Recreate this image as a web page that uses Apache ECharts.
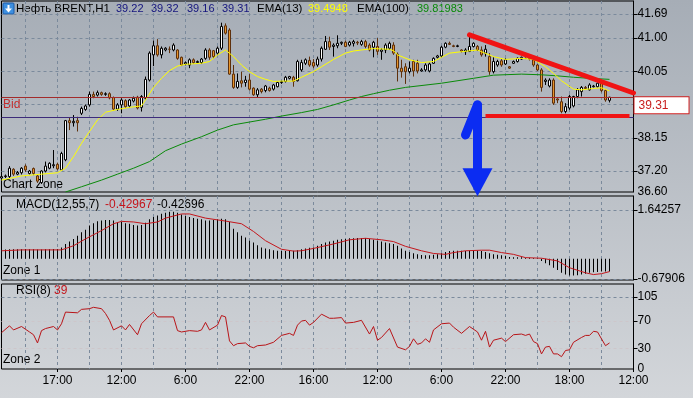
<!DOCTYPE html>
<html>
<head>
<meta charset="utf-8">
<title>Нефть BRENT,H1</title>
<script src="https://cdn.jsdelivr.net/npm/echarts@6/dist/echarts.min.js"></script>
<style>
  html, body { margin: 0; padding: 0; }
  #chart { width: 693px; height: 398px; }
</style>
</head>
<body>
<div id="chart"></div>
<script>
// one slot per H1 bar (4 px each), time label every 16 bars, grid line every 8
const timeLabels = ['17:00', '12:00', '6:00', '22:00', '16:00', '12:00', '6:00', '22:00', '18:00', '12:00']
const firstLabelBar = 14
const labelEvery = 16
const gridEvery = 8
const barSlots = 159

// candles: [open, close, low, high]
const candles = [
  [37.00, 37.04, 36.95, 37.08], [37.04, 37.06, 37.00, 37.10], [37.04, 37.28, 37.00, 37.34], [37.25, 37.11, 37.06, 37.28],
  [37.11, 37.16, 37.08, 37.20], [37.15, 37.28, 37.10, 37.31], [37.34, 37.23, 37.18, 37.39], [37.13, 37.20, 37.10, 37.23],
  [37.27, 37.13, 37.08, 37.30], [37.06, 36.91, 36.86, 37.10], [36.87, 37.20, 36.83, 37.22], [37.20, 37.34, 37.16, 37.47],
  [37.28, 37.42, 37.25, 37.45], [37.35, 37.38, 37.28, 37.80], [37.39, 37.26, 37.22, 37.44], [37.23, 37.70, 37.20, 37.75],
  [37.52, 38.64, 37.48, 38.66], [38.64, 38.58, 38.37, 38.73], [38.58, 38.62, 38.47, 38.80], [38.64, 38.58, 38.33, 38.75],
  [38.85, 38.99, 38.80, 39.04], [38.96, 39.06, 38.92, 39.10], [39.09, 39.39, 39.04, 39.47], [39.39, 39.33, 39.28, 39.47],
  [39.37, 39.44, 39.33, 39.50], [39.44, 39.39, 39.35, 39.47], [39.39, 39.41, 39.35, 39.45], [39.41, 39.29, 39.25, 39.45],
  [39.30, 38.97, 38.93, 39.33], [38.97, 39.09, 38.92, 39.14], [39.09, 39.23, 38.85, 39.28], [39.21, 39.04, 39.00, 39.25],
  [39.06, 39.23, 39.02, 39.26], [39.20, 39.28, 39.16, 39.33], [39.31, 39.00, 38.96, 39.35], [39.02, 39.33, 38.90, 39.37],
  [39.28, 39.82, 39.24, 39.90], [39.80, 40.57, 39.76, 40.62], [40.52, 40.78, 40.20, 40.93], [40.78, 40.52, 40.47, 40.97],
  [40.52, 40.71, 40.42, 40.76], [40.66, 40.71, 40.62, 40.74], [40.68, 40.68, 40.57, 40.76], [40.66, 40.80, 40.62, 40.85],
  [40.66, 40.42, 40.38, 40.68], [40.45, 40.23, 40.20, 40.47], [40.26, 40.30, 40.22, 40.33], [40.23, 40.38, 40.14, 40.42],
  [40.38, 40.30, 40.26, 40.42], [40.30, 40.33, 40.26, 40.36], [40.30, 40.40, 40.26, 40.43], [40.42, 40.66, 40.38, 40.71],
  [40.66, 40.45, 40.38, 40.71], [40.64, 40.47, 40.42, 40.66], [40.57, 40.71, 40.52, 40.76], [40.71, 41.33, 40.66, 41.44],
  [41.35, 41.14, 41.10, 41.42], [41.23, 39.97, 39.95, 41.28], [39.97, 39.59, 39.55, 40.23], [39.59, 39.76, 39.55, 39.99],
  [39.78, 39.71, 39.59, 40.04], [39.73, 39.80, 39.61, 39.92], [39.80, 39.54, 39.50, 39.97], [39.57, 39.38, 39.35, 39.59],
  [39.38, 39.52, 39.31, 39.57], [39.54, 39.47, 39.42, 39.57], [39.50, 39.63, 39.45, 39.66], [39.57, 39.50, 39.47, 39.61],
  [39.54, 39.66, 39.50, 39.69], [39.61, 39.73, 39.59, 39.76], [39.73, 39.76, 39.69, 39.78], [39.76, 39.88, 39.73, 39.92],
  [39.85, 39.90, 39.82, 39.92], [39.88, 39.76, 39.61, 39.92], [39.78, 40.33, 39.76, 40.38], [40.09, 40.30, 40.04, 40.38],
  [40.28, 40.38, 40.23, 40.42], [40.36, 40.23, 40.18, 40.47], [40.30, 40.20, 40.14, 40.40], [40.23, 40.40, 40.18, 40.47],
  [40.40, 40.71, 40.33, 40.76], [40.68, 40.90, 40.66, 41.06], [40.90, 40.74, 40.66, 41.04], [40.76, 40.80, 40.47, 40.85],
  [40.78, 40.85, 40.71, 41.08], [40.85, 40.88, 40.80, 40.90], [40.88, 40.76, 40.74, 40.93], [40.80, 40.88, 40.76, 40.92],
  [40.85, 40.90, 40.76, 40.95], [40.88, 40.86, 40.80, 40.92], [40.82, 40.90, 40.78, 40.95], [40.90, 40.76, 40.71, 40.95],
  [40.80, 40.66, 40.62, 40.85], [40.74, 40.88, 40.45, 40.92], [40.76, 40.62, 40.52, 41.00], [40.62, 40.66, 40.38, 40.71],
  [40.66, 40.80, 40.57, 40.85], [40.71, 40.85, 40.66, 40.90], [40.80, 40.57, 40.52, 40.88], [40.54, 40.14, 39.76, 40.59],
  [40.14, 40.04, 39.87, 40.38], [40.18, 40.04, 39.69, 40.28], [40.04, 40.14, 39.99, 40.33], [40.33, 40.06, 39.90, 40.38],
  [40.28, 40.06, 39.99, 40.38], [40.06, 40.09, 40.04, 40.14], [40.09, 40.23, 40.04, 40.28], [40.06, 40.26, 40.02, 40.30],
  [40.28, 40.42, 40.26, 40.45], [40.45, 40.49, 40.42, 40.52], [40.49, 40.74, 40.45, 40.78], [40.74, 40.85, 40.71, 40.88],
  [40.85, 40.82, 40.80, 40.90], [40.78, 40.76, 40.74, 40.81], [40.76, 40.78, 40.74, 40.81], [40.66, 40.62, 40.59, 40.68],
  [40.61, 40.66, 40.52, 40.71], [40.62, 40.76, 40.60, 41.04], [40.76, 40.85, 40.73, 40.88], [40.76, 40.66, 40.63, 40.80],
  [40.66, 40.52, 40.47, 40.76], [40.57, 40.68, 40.47, 40.80], [40.47, 40.04, 39.95, 40.57], [40.04, 40.33, 39.99, 40.45],
  [40.23, 40.33, 40.18, 40.38], [40.35, 40.23, 40.18, 40.40], [40.26, 40.38, 40.23, 40.42], [40.18, 40.14, 40.12, 40.20],
  [40.28, 40.33, 40.26, 40.36], [40.33, 40.42, 40.30, 40.45], [40.40, 40.45, 40.38, 40.47], [40.42, 40.42, 40.40, 40.45],
  [40.43, 40.40, 40.36, 40.45], [40.38, 40.23, 40.18, 40.47], [40.23, 40.09, 40.06, 40.26], [40.09, 39.59, 39.47, 40.14],
  [39.76, 39.80, 39.66, 39.85], [39.63, 39.80, 39.59, 39.85], [39.80, 39.14, 39.09, 39.85], [39.26, 39.23, 39.14, 39.28],
  [39.18, 38.90, 38.85, 39.33], [38.90, 39.04, 38.85, 39.14], [39.00, 39.33, 38.95, 39.38], [39.06, 39.33, 39.02, 39.35],
  [39.33, 39.52, 39.28, 39.57], [39.47, 39.59, 39.33, 39.63], [39.59, 39.56, 39.54, 39.63], [39.52, 39.66, 39.50, 39.71],
  [39.61, 39.63, 39.59, 39.66], [39.61, 39.71, 39.59, 39.73], [39.71, 39.50, 39.45, 39.73], [39.50, 39.23, 39.18, 39.54],
  [39.22, 39.31, 39.16, 39.32]
]

// moving averages: [bar, price]
const ema13 = [
  [0, 36.94], [5, 37.06], [10, 37.11], [14, 37.15], [16, 37.28], [18, 37.61], [20, 37.99], [22, 38.33], [24, 38.66],
  [26, 38.88], [29, 38.96], [32, 39.02], [35, 39.06], [36, 39.23], [38, 39.59], [40, 39.85], [42, 40.07], [44, 40.20],
  [46, 40.25], [50, 40.28], [52, 40.33], [54, 40.52], [56, 40.66], [58, 40.47], [60, 40.23], [62, 40.04], [64, 39.90],
  [66, 39.82], [68, 39.76], [70, 39.77], [73, 39.77], [75, 39.88], [78, 40.04], [80, 40.18], [83, 40.39], [86, 40.57],
  [88, 40.63], [90, 40.66], [93, 40.70], [97, 40.68], [98, 40.64], [99, 40.52], [102, 40.38], [105, 40.30], [108, 40.33],
  [110, 40.45], [112, 40.57], [115, 40.61], [119, 40.66], [120, 40.61], [123, 40.47], [126, 40.39], [130, 40.42],
  [133, 40.39], [136, 40.18], [138, 39.99], [140, 39.78], [143, 39.54], [145, 39.52], [148, 39.56], [150, 39.58], [152, 39.49]
]
const ema100 = [
  [16, 36.60], [20, 36.75], [25, 36.94], [29, 37.11], [33, 37.28], [37, 37.47], [41, 37.78], [45, 37.97], [50, 38.18],
  [54, 38.37], [58, 38.52], [62, 38.60], [66, 38.68], [70, 38.77], [75, 38.87], [79, 38.96], [83, 39.09], [87, 39.23],
  [90, 39.33], [93, 39.41], [97, 39.51], [101, 39.59], [110, 39.71], [118, 39.85], [123, 39.94], [130, 39.97],
  [135, 39.95], [139, 39.92], [143, 39.88], [147, 39.85], [152, 39.82]
]

// MACD(12,55,7) histogram, one per bar
const macdHist = [
  0.31, 0.31, 0.32, 0.32, 0.32, 0.32, 0.33, 0.32, 0.32, 0.31, 0.31, 0.32, 0.32, 0.33, 0.33,
  0.38, 0.50, 0.58, 0.67, 0.78, 0.89, 0.98, 1.12, 1.20, 1.26,
  1.29, 1.31, 1.31, 1.29, 1.24, 1.24, 1.20, 1.18, 1.14, 1.12,
  1.14, 1.21, 1.33, 1.41, 1.46, 1.52, 1.55, 1.58, 1.58, 1.55,
  1.49, 1.44, 1.41, 1.37, 1.35, 1.33, 1.29, 1.29, 1.31, 1.33,
  1.35, 1.33, 1.24, 1.01, 0.89, 0.78, 0.72, 0.61, 0.55, 0.46,
  0.38, 0.35, 0.32, 0.29, 0.27, 0.26, 0.26, 0.26, 0.27, 0.29,
  0.32, 0.35, 0.37, 0.38, 0.44, 0.50, 0.55, 0.58, 0.61, 0.64,
  0.66, 0.67, 0.69, 0.69, 0.70, 0.70, 0.69, 0.67, 0.64, 0.61,
  0.58, 0.55, 0.52, 0.50, 0.44, 0.35, 0.27, 0.23, 0.19, 0.15,
  0.13, 0.12, 0.12, 0.14, 0.15, 0.19, 0.23, 0.26, 0.27, 0.27,
  0.27, 0.26, 0.27, 0.27, 0.27, 0.26, 0.23, 0.19, 0.15, 0.14,
  0.12, 0.10, 0.06, 0.05, 0.05, 0.05, 0.04, 0.04, 0.03, 0.02,
  -0.07, -0.15, -0.22, -0.30, -0.38, -0.47, -0.53, -0.56, -0.56, -0.55,
  -0.53, -0.50, -0.47, -0.45, -0.44, -0.43, -0.43, -0.43
]
const macdSignal = [
  [0, 0.27], [5, 0.30], [15, 0.30], [18, 0.44], [21, 0.67], [25, 0.95], [28, 1.18], [30, 1.26], [33, 1.24], [36, 1.18],
  [39, 1.24], [41, 1.37], [45, 1.51], [47, 1.51], [51, 1.37], [56, 1.27], [60, 1.18], [63, 0.92], [66, 0.61], [70, 0.32],
  [73, 0.26], [75, 0.27], [78, 0.35], [83, 0.50], [87, 0.64], [91, 0.69], [95, 0.64], [98, 0.58], [101, 0.42], [105, 0.27],
  [108, 0.18], [111, 0.15], [113, 0.21], [116, 0.27], [120, 0.29], [122, 0.29], [125, 0.21], [128, 0.15], [131, 0.04],
  [135, 0.02], [139, -0.07], [142, -0.30], [146, -0.47], [148, -0.53], [150, -0.50], [152, -0.43]
]

// RSI(8)
const rsi = [
  [0, 53], [2, 63], [3, 57], [5, 62], [7, 54], [8, 50], [9, 38], [10, 56], [11, 59], [13, 62], [14, 57], [15, 66],
  [16, 83], [19, 82], [20, 87], [22, 88], [23, 90], [25, 88], [26, 81], [27, 71], [28, 57], [30, 63], [31, 57], [32, 65],
  [34, 50], [35, 66], [37, 78], [38, 83], [39, 76], [43, 76], [44, 56], [45, 54], [47, 56], [49, 55], [50, 57], [51, 68],
  [52, 57], [54, 64], [55, 78], [56, 76], [57, 41], [58, 34], [59, 37], [61, 38], [62, 33], [63, 31], [64, 34], [66, 35],
  [68, 39], [70, 49], [72, 52], [73, 49], [74, 64], [75, 70], [76, 71], [77, 64], [78, 68], [80, 80], [82, 74], [83, 74],
  [85, 75], [86, 67], [88, 68], [90, 71], [92, 51], [93, 62], [94, 42], [95, 46], [97, 59], [99, 32], [101, 28], [102, 33],
  [103, 44], [104, 36], [105, 38], [106, 44], [107, 39], [108, 57], [110, 66], [112, 67], [113, 61], [115, 52], [117, 62],
  [119, 54], [120, 42], [121, 55], [122, 32], [123, 42], [125, 45], [126, 40], [128, 50], [130, 51], [131, 49], [132, 51],
  [133, 40], [134, 37], [135, 22], [136, 32], [137, 33], [138, 22], [139, 22], [140, 18], [141, 27], [142, 28], [143, 39],
  [145, 46], [146, 49], [147, 49], [148, 55], [149, 54], [150, 44], [151, 34], [152, 38]
]

// axis ticks and labels
const priceTicks = [37.2, 38.15, 39.1, 40.05, 41.0, 41.69]
const priceLabels = [36.6, 37.2, 38.15, 40.05, 41.0, 41.69]
const macdTicks = [-0.67906, 1.64257]
const rsiTicks = [30, 70, 105]
const rsiLabels = [0, 30, 70, 105]

// drawn objects on the price chart
const bidPrice = 39.31
const levelLine = 38.745
const trendLine = [[116.7, 41.09], [158, 39.43]]
const floorLine = [[121.3, 38.77], [156.9, 38.77]]
const arrowHook = [[115.6, 38.23], [118.8, 39.09]]
const arrowShaft = [[118.8, 39.09], [118.8, 36.88]]

const font = "'Liberation Sans', Arial, sans-serif"
const gridColor = '#7b8a9c'
const cats = Array.from({ length: barSlots }, (_, i) => String(i))
const labelAt = i => (i - firstLabelBar) % labelEvery === 0 ? timeLabels[(i - firstLabelBar) / labelEvery] : ''

const gridBase = { left: 1.5, width: 632, show: true, borderColor: '#000', borderWidth: 1, backgroundColor: 'transparent', outerBoundsMode: 'none' }

function makeX(gridIndex, showLabels) {
  return {
    type: 'category',
    gridIndex,
    data: cats,
    boundaryGap: false,
    axisLine: { show: false },
    axisTick: { show: showLabels, interval: i => labelAt(i) !== '', length: 3, lineStyle: { color: '#000' } },
    axisLabel: {
      show: showLabels, interval: i => labelAt(i) !== '', formatter: (v, i) => labelAt(i),
      color: '#000', fontSize: 12, fontFamily: font, margin: 6
    },
    splitLine: { show: true, interval: i => (i - 6) % gridEvery === 0, lineStyle: { color: gridColor, type: [3, 3], width: 1 } }
  }
}

function makeY(gridIndex, min, max, ticks, labels, fmt, splitColors) {
  return {
    type: 'value',
    gridIndex,
    position: 'right',
    min, max,
    axisLine: { show: true, lineStyle: { color: '#000' } },
    axisTick: { show: true, customValues: ticks, length: 4, lineStyle: { color: '#000' } },
    axisLabel: { customValues: labels, formatter: fmt, color: '#000', fontSize: 12, fontFamily: font, margin: 4 },
    splitLine: { show: true, lineStyle: { color: splitColors || gridColor, type: [3, 3], width: 1 } }
  }
}

const blue = '#0b2cf2'
const txt = (x, y, text, fill, size) => ({
  type: 'text', x, y, silent: true,
  style: { text, fill: fill || '#000', font: `${size || 12}px ${font}`, verticalAlign: 'middle' }
})

const chart = echarts.init(document.getElementById('chart'), null, { renderer: 'canvas' })

chart.setOption({
  animation: false,
  backgroundColor: new echarts.graphic.LinearGradient(0, 0, 0, 1, [
    { offset: 0, color: '#a6adb6' },
    { offset: 1, color: '#d3d6da' }
  ]),
  grid: [
    { ...gridBase, top: 1, height: 191 },
    { ...gridBase, top: 196, height: 84 },
    { ...gridBase, top: 284, height: 85 }
  ],
  xAxis: [makeX(0, false), makeX(1, false), makeX(2, true)],
  yAxis: [
    makeY(0, 36.6, 42.06, priceTicks, priceLabels, v => v.toFixed(2)),
    makeY(1, -0.7127, 2.1136, macdTicks, macdTicks, v => v.toFixed(5)),
    makeY(2, 0, 124, rsiTicks, rsiLabels, v => String(Math.round(v)), ['#cdc6ca', '#cdc6ca', gridColor])
  ],
  series: [
    {
      name: 'Price',
      type: 'candlestick',
      xAxisIndex: 0, yAxisIndex: 0,
      barWidth: 3,
      data: candles,
      itemStyle: { color: '#ffffff', color0: '#e6952c', borderColor: '#000000', borderColor0: '#5e300c', borderWidth: 1 },
      z: 2
    },
    {
      name: 'EMA(100)', type: 'line', xAxisIndex: 0, yAxisIndex: 0,
      data: ema100, symbol: 'none', lineStyle: { color: '#0a8a0a', width: 1 }, z: 3
    },
    {
      name: 'EMA(13)', type: 'line', xAxisIndex: 0, yAxisIndex: 0,
      data: ema13, symbol: 'none', lineStyle: { color: '#ffff00', width: 1 }, z: 3
    },
    {
      name: 'Objects', type: 'line', xAxisIndex: 0, yAxisIndex: 0,
      data: [], clip: false, z: 6,
      markLine: {
        silent: true, animation: false, symbol: 'none',
        label: { show: false },
        emphasis: { disabled: true },
        data: [
          {
            yAxis: bidPrice,
            lineStyle: { color: '#a32b2b', width: 1, type: 'solid' },
            label: {
              show: true, position: 'end', distance: 1, offset: [0, 8],
              formatter: bidPrice.toFixed(2), color: '#c81e1e', fontSize: 12, fontFamily: font,
              backgroundColor: '#ffffff', borderColor: '#d02020', borderWidth: 1, padding: [2, 20, 2, 4]
            }
          },
          { yAxis: levelLine, lineStyle: { color: '#3d2b7a', width: 1, type: 'solid' } },
          [
            { coord: trendLine[0], lineStyle: { color: '#f01414', width: 5, type: 'solid', cap: 'round' } },
            { coord: trendLine[1] }
          ],
          [
            { coord: floorLine[0], lineStyle: { color: '#f01414', width: 4, type: 'solid', cap: 'butt' } },
            { coord: floorLine[1] }
          ],
          [
            { coord: arrowHook[0], lineStyle: { color: blue, width: 9, type: 'solid', cap: 'round' } },
            { coord: arrowHook[1] }
          ],
          [
            { coord: arrowShaft[0], lineStyle: { color: blue, width: 9, type: 'solid', cap: 'round' } },
            { coord: arrowShaft[1], symbol: 'triangle', symbolSize: [30, 28] }
          ]
        ]
      }
    },
    {
      name: 'MACD', type: 'bar', xAxisIndex: 1, yAxisIndex: 1,
      data: macdHist, barWidth: 1, itemStyle: { color: '#000' }, z: 2
    },
    {
      name: 'Signal', type: 'line', xAxisIndex: 1, yAxisIndex: 1,
      data: macdSignal, symbol: 'none', lineStyle: { color: '#c4161c', width: 1 }, z: 3
    },
    {
      name: 'RSI(8)', type: 'line', xAxisIndex: 2, yAxisIndex: 2,
      data: rsi, symbol: 'none', lineStyle: { color: '#b81418', width: 1 }, z: 3
    }
  ],
  graphic: [
    {
      type: 'group', x: 3, y: 3, silent: true,
      children: [
        { type: 'rect', shape: { x: 0, y: 0, width: 11, height: 11, r: 1 }, style: { fill: '#3d8fe0', stroke: '#1d5aa8', lineWidth: 1 } },
        { type: 'polygon', shape: { points: [[4.5, 2], [6.5, 2], [6.5, 5.5], [9, 5.5], [5.5, 9.5], [2, 5.5], [4.5, 5.5]] }, style: { fill: '#ffffff' } }
      ]
    },
    txt(16, 9, 'Нефть BRENT,H1', '#000', 11.5),
    txt(116, 9, '39.22', '#14147e', 11),
    txt(151, 9, '39.32', '#14147e', 11),
    txt(187, 9, '39.16', '#14147e', 11),
    txt(222, 9, '39.31', '#14147e', 11),
    txt(257, 9, 'EMA(13)', '#000', 11.5),
    txt(308, 9, '39.4948', '#ffff00', 11),
    txt(357, 9, 'EMA(100)', '#000', 11.5),
    txt(417, 9, '39.81983', '#0a8a0a', 11),
    txt(3, 105, 'Bid', '#c42a2a'),
    txt(3, 185, 'Chart Zone'),
    txt(16, 205, 'MACD(12,55,7)'),
    txt(105, 205, '-0.42967', '#c4161c'),
    txt(157, 205, '-0.42696'),
    txt(3, 271, 'Zone 1'),
    txt(16, 291, 'RSI(8)'),
    txt(54, 291, '39', '#c4161c'),
    txt(3, 360, 'Zone 2')
  ]
})

window.addEventListener('resize', () => chart.resize())
</script>
</body>
</html>
